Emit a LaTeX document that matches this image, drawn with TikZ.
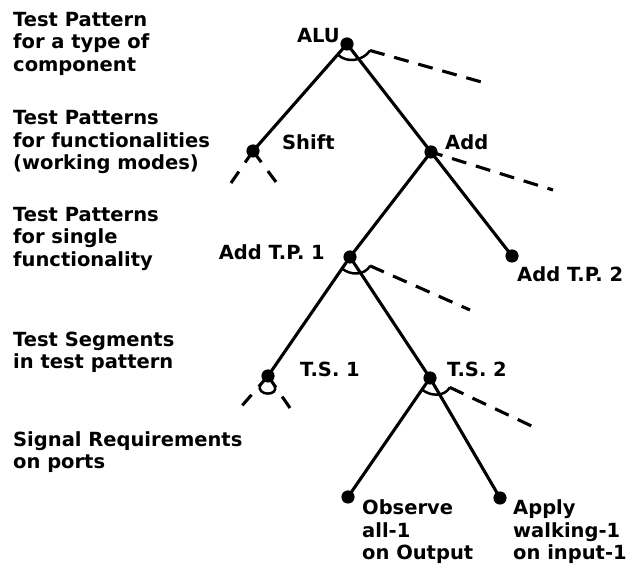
\documentclass[tikz,border=0pt]{standalone}
\usepackage{fontspec}
\setmainfont{DejaVu Sans}
\usetikzlibrary{calc}
\begin{document}
\begin{tikzpicture}[x=1pt,y=1pt,
  branch/.style={line width=3.1pt},
  longdash/.style={line width=3.1pt, dash pattern=on 15pt off 10pt},
  shortdash/.style={line width=3.1pt, dash pattern=on 14pt off 11pt},
  andarc/.style={line width=2.5pt},
  dot/.style={circle, fill=black, inner sep=0pt, minimum size=13.2pt},
  lbl/.style={font=\bfseries\fontsize{19.5}{22.3}\selectfont, inner sep=0pt, align=left},
]
\useasboundingbox (0,0) rectangle (641,571);

% level descriptions (anchored at the baseline of their last line)
\node[lbl, anchor=base west] (lvA) at (13,499.7) {Test Pattern\\for a type of\\component};
\node[lbl, anchor=base west] (lvB) at (13,401.4) {Test Patterns\\for functionalities\\(working modes)};
\node[lbl, anchor=base west] (lvC) at (13,304.7) {Test Patterns\\for single\\functionality};
\node[lbl, anchor=base west] (lvD) at (13,202) {Test Segments\\in test pattern};
\node[lbl, anchor=base west] (lvE) at (13,102) {Signal Requirements\\on ports};

% tree vertices
\node[dot] (alu) at (347,527) {};
\node[dot] (shift) at (253,420) {};
\node[dot] (add) at (431,419) {};
\node[dot] (tpa) at (350,314) {};
\node[dot] (tpb) at (512,315) {};
\node[dot] (tsa) at (268,195) {};
\node[dot] (tsb) at (430,193) {};
\node[dot] (obs) at (348,74) {};
\node[dot] (app) at (500,73) {};

% open ends of the dashed branches
\coordinate (aluX) at (485,488);
\coordinate (addX) at (553,381);
\coordinate (tpaX) at (470,261);
\coordinate (tsbX) at (540,141);
\coordinate (shiftL) at (231,388);
\coordinate (shiftR) at (276,389);
\coordinate (tsaL) at (240,163);
\coordinate (tsaR) at (290,163);

% solid branches
\draw[branch] (alu.center) -- (shift.center);
\draw[branch] (alu.center) -- (add.center);
\draw[branch] (add.center) -- (tpa.center);
\draw[branch] (add.center) -- (tpb.center);
\draw[branch] (tpa.center) -- (tsa.center);
\draw[branch] (tpa.center) -- (tsb.center);
\draw[branch] (tsb.center) -- (obs.center);
\draw[branch] (tsb.center) -- (app.center);

% dashed branches
\draw[longdash] ($(alu)!24pt!(aluX)$) -- (aluX);
\draw[longdash, dash phase=3pt] (add.center) -- (addX);
\draw[longdash] ($(tpa)!22pt!(tpaX)$) -- (tpaX);
\draw[longdash] ($(tsb)!22pt!(tsbX)$) -- (tsbX);
\draw[shortdash] (shift.center) -- (shiftL);
\draw[shortdash] (shift.center) -- (shiftR);
\draw[shortdash] (tsa.center) -- (tsaL);
\draw[shortdash] (tsa.center) -- (tsaR);

% AND arcs
\draw[andarc] ($(alu)!14pt!(shift)$) to[out=-45, in=235] ($(alu)!24pt!(aluX)$);
\draw[andarc] ($(tpa)!14pt!(tsa)$) to[out=-40, in=240] ($(tpa)!22pt!(tpaX)$);
\draw[andarc] ($(tsb)!14pt!(obs)$) to[out=-40, in=240] ($(tsb)!22pt!(tsbX)$);
\draw[andarc] ($(tsa)!12pt!(tsaL)$) to[out=-110, in=-70, looseness=2] ($(tsa)!12pt!(tsaR)$);

% vertex labels
\node[lbl, anchor=base east] (aluT) at (340,528) {ALU};
\node[lbl, anchor=base west] (shiftT) at (282,421) {Shift};
\node[lbl, anchor=base west] (addT) at (445,421) {Add};
\node[lbl, anchor=base east] (tpaT) at (325,311) {Add T.P. 1};
\node[lbl, anchor=base west] (tpbT) at (517,289) {Add T.P. 2};
\node[lbl, anchor=base west] (tsaT) at (300,194) {T.S. 1};
\node[lbl, anchor=base west] (tsbT) at (447,194) {T.S. 2};
\node[lbl, anchor=base west] (obsT) at (362,11.4) {Observe\\all-1\\on Output};
\node[lbl, anchor=base west] (appT) at (513,11.4) {Apply\\walking-1\\on input-1};
\end{tikzpicture}
\end{document}
